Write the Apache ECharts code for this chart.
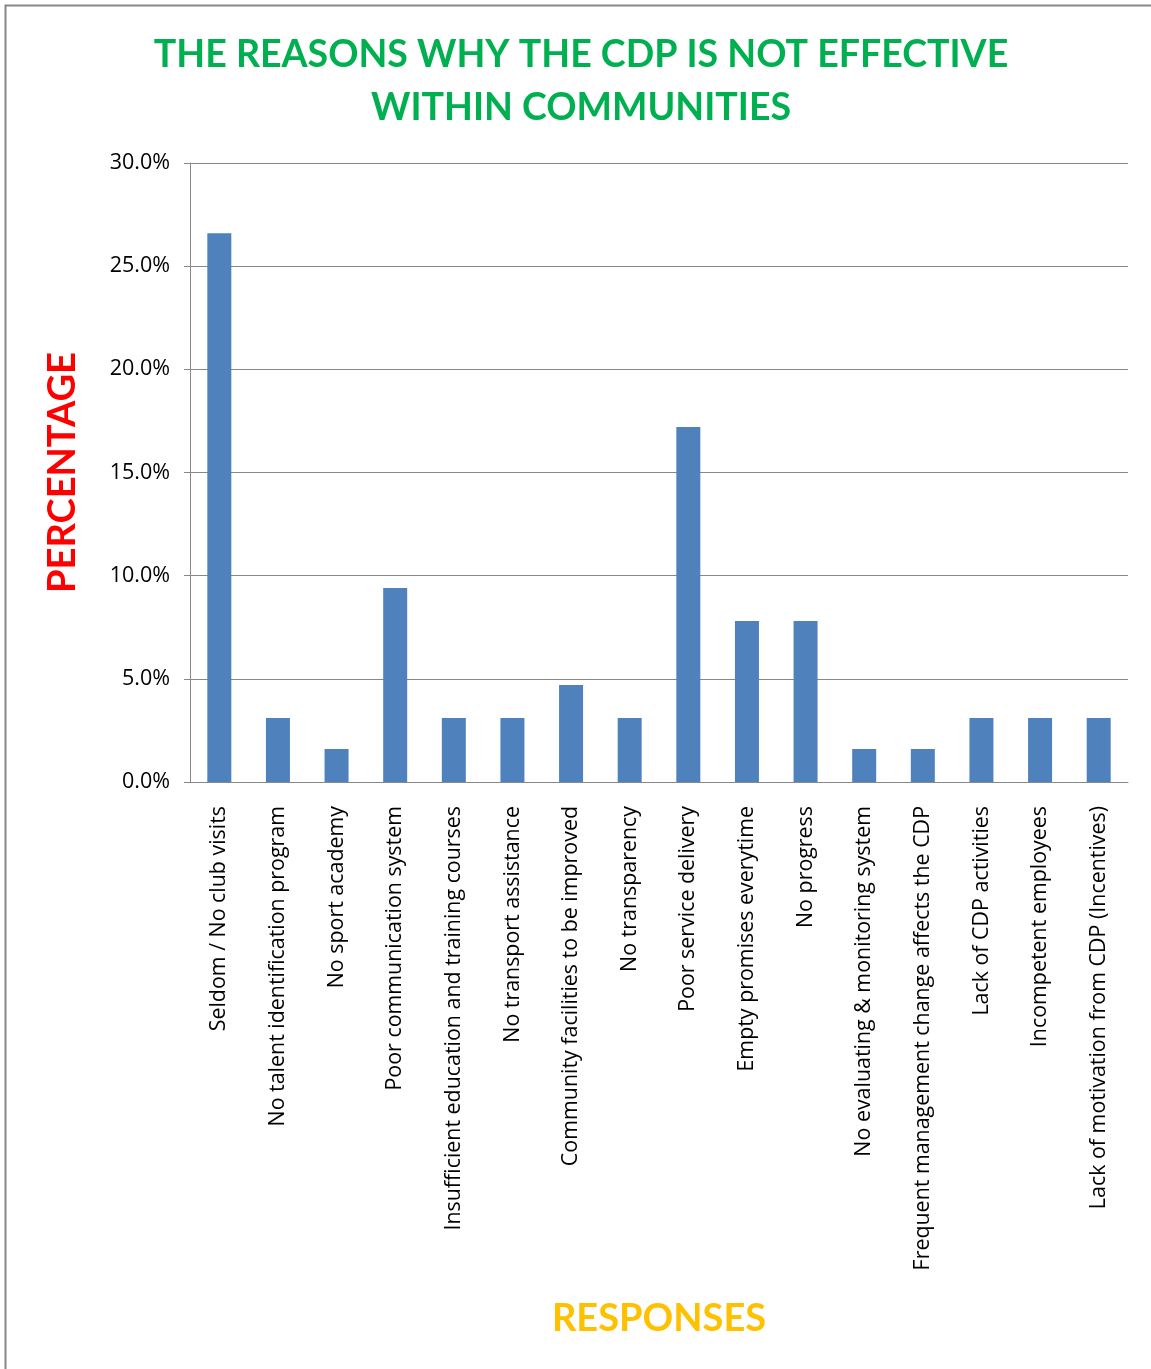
<!DOCTYPE html>
<html>
<head>
<meta charset="utf-8">
<script src="https://cdn.jsdelivr.net/npm/echarts@6/dist/echarts.min.js"></script>
<style>
  html, body { margin: 0; padding: 0; background: #fff; }
  #chart { width: 1151px; height: 1369px; }
</style>
</head>
<body>
<div id="chart"></div>
<script>
const categories = [
    'Seldom / No club visits',
    'No talent identification program',
    'No sport academy',
    'Poor communication system',
    'Insufficient education and training courses',
    'No transport assistance',
    'Community facilities to be improved',
    'No transparency',
    'Poor service delivery',
    'Empty promises everytime',
    'No progress',
    'No evaluating & monitoring system',
    'Frequent management change affects the CDP',
    'Lack of CDP activities',
    'Incompetent employees',
    'Lack of motivation from CDP (Incentives)'
];
const percentages = [26.6, 3.1, 1.6, 9.4, 3.1, 3.1, 4.7, 3.1, 17.2, 7.8, 7.8, 1.6, 1.6, 3.1, 3.1, 3.1];

const font = 'Lato, "Open Sans", sans-serif';
const labelFont = '"Open Sans", sans-serif';
const chart = echarts.init(document.getElementById('chart'));
chart.setOption({
    animation: false,
    title: {
        text: 'THE REASONS WHY THE CDP IS NOT EFFECTIVE\nWITHIN COMMUNITIES',
        left: 576,
        top: 23,
        textAlign: 'center',
        textStyle: {
            color: '#00B050',
            fontFamily: font,
            fontSize: 37.5,
            fontWeight: 'bold',
            lineHeight: 53
        }
    },
    graphic: [{
        type: 'rect',
        shape: {x: 5.5, y: 5.5, width: 1150, height: 1370},
        style: {fill: 'none', stroke: '#888', lineWidth: 2}
    }],
    grid: {left: 190, right: 23, top: 163, bottom: 587},
    xAxis: {
        type: 'category',
        data: categories,
        name: 'RESPONSES',
        nameLocation: 'middle',
        nameGap: 518,
        nameTextStyle: {
            color: '#FFC000',
            fontFamily: font,
            fontSize: 38,
            fontWeight: 'bold',
            verticalAlign: 'top'
        },
        axisLine: {lineStyle: {color: '#888', width: 1}},
        axisTick: {show: false},
        axisLabel: {
            rotate: 90,
            interval: 0,
            margin: 24,
            color: '#000',
            fontFamily: labelFont,
            fontSize: 21.4
        }
    },
    yAxis: {
        type: 'value',
        min: 0,
        max: 30,
        interval: 5,
        name: 'PERCENTAGE',
        nameLocation: 'middle',
        nameRotate: 90,
        nameGap: 108,
        nameTextStyle: {
            color: '#FF0000',
            fontFamily: font,
            fontSize: 38,
            fontWeight: 'bold'
        },
        axisLine: {show: true, lineStyle: {color: '#888', width: 1}},
        axisTick: {show: true, length: 6, lineStyle: {color: '#888'}},
        splitLine: {lineStyle: {color: '#888', width: 1}},
        axisLabel: {
            margin: 20,
            color: '#000',
            fontFamily: labelFont,
            fontSize: 21.5,
            formatter: v => v.toFixed(1) + '%'
        }
    },
    series: [{
        type: 'bar',
        data: percentages,
        barWidth: 24,
        itemStyle: {color: '#4F81BD'}
    }]
});
</script>
</body>
</html>
